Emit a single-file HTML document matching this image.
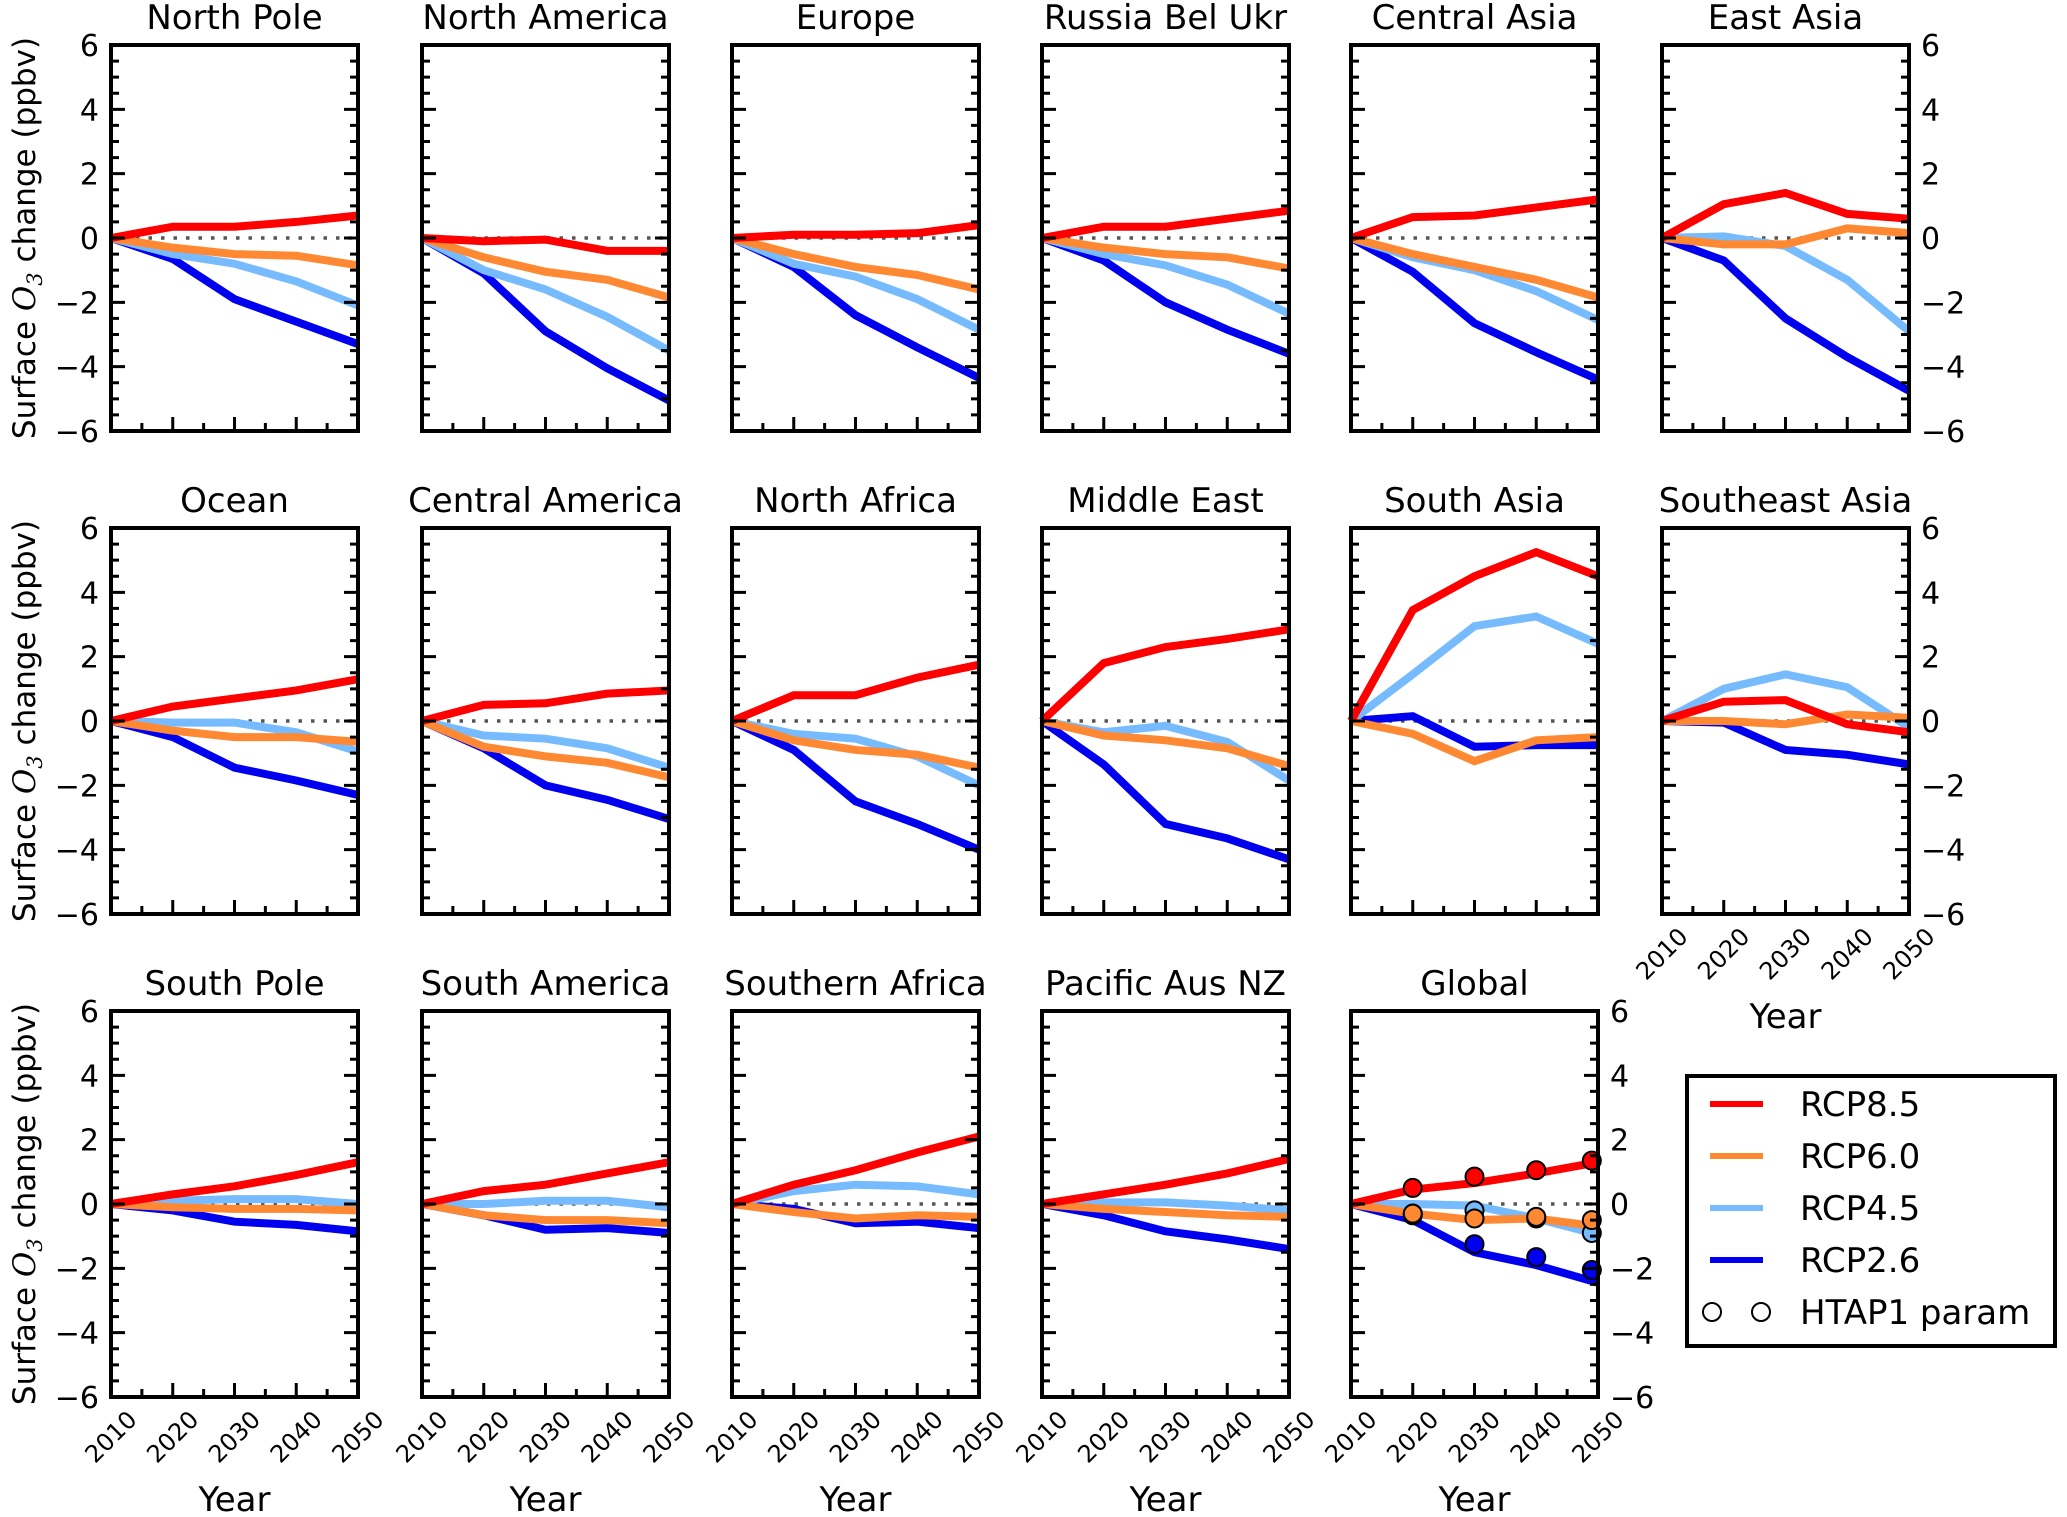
<!DOCTYPE html>
<html><head><meta charset="utf-8">
<style>
html,body{margin:0;padding:0;background:#fff;}
svg{display:block;font-family:"DejaVu Sans","Liberation Sans",sans-serif;}
</style></head>
<body>
<svg id="fig" width="2067" height="1517" viewBox="0 0 2067 1517" xmlns="http://www.w3.org/2000/svg"></svg>
<script>
const years = [2010, 2020, 2030, 2040, 2050];
const yTicks = [-6, -4, -2, 0, 2, 4, 6];
const scenarios = ["RCP8.5", "RCP6.0", "RCP4.5", "RCP2.6"];
const colors = ["#ff0000", "#ff8833", "#77bbff", "#0000ee"];
const regions = ["North Pole","North America","Europe","Russia Bel Ukr","Central Asia","East Asia",
  "Ocean","Central America","North Africa","Middle East","South Asia","Southeast Asia",
  "South Pole","South America","Southern Africa","Pacific Aus NZ","Global"];
const rcp85 = [
 [0,0.35,0.35,0.5,0.7],[0,-0.1,-0.05,-0.4,-0.4],[0,0.1,0.1,0.15,0.4],[0,0.35,0.35,0.6,0.85],[0,0.65,0.7,0.95,1.2],[0,1.05,1.4,0.75,0.6],
 [0,0.45,0.7,0.95,1.3],[0,0.5,0.55,0.85,0.95],[0,0.8,0.8,1.35,1.75],[0,1.8,2.3,2.55,2.85],[0,3.45,4.5,5.25,4.5],[0,0.6,0.65,-0.1,-0.35],
 [0,0.3,0.55,0.9,1.3],[0,0.4,0.6,0.95,1.3],[0,0.6,1.05,1.6,2.1],[0,0.3,0.6,0.95,1.4],[0,0.45,0.65,0.95,1.3]];
const rcp60 = [
 [0,-0.3,-0.5,-0.55,-0.85],[0,-0.6,-1.05,-1.3,-1.85],[0,-0.5,-0.9,-1.15,-1.6],[0,-0.3,-0.5,-0.6,-0.95],[0,-0.5,-0.9,-1.3,-1.85],[0,-0.2,-0.2,0.3,0.15],
 [0,-0.3,-0.5,-0.5,-0.65],[0,-0.8,-1.1,-1.3,-1.75],[0,-0.6,-0.9,-1.05,-1.45],[0,-0.45,-0.6,-0.85,-1.4],[0,-0.4,-1.25,-0.6,-0.5],[0,0,-0.1,0.2,0.1],
 [0,-0.1,-0.15,-0.15,-0.2],[0,-0.35,-0.5,-0.5,-0.6],[0,-0.25,-0.45,-0.35,-0.4],[0,-0.15,-0.25,-0.35,-0.4],[0,-0.3,-0.5,-0.45,-0.7]];
const rcp45 = [
 [0,-0.5,-0.8,-1.35,-2.1],[0,-1.0,-1.6,-2.45,-3.5],[0,-0.8,-1.2,-1.9,-2.85],[0,-0.5,-0.85,-1.45,-2.35],[0,-0.6,-1.0,-1.65,-2.55],[0,0.05,-0.25,-1.3,-2.9],
 [0,-0.05,-0.05,-0.35,-0.95],[0,-0.45,-0.55,-0.85,-1.45],[0,-0.4,-0.55,-1.1,-2.0],[0,-0.35,-0.15,-0.65,-1.85],[0,1.45,2.95,3.25,2.4],[0,1.0,1.45,1.05,-0.2],
 [0,0.1,0.15,0.15,0.0],[0,0.0,0.1,0.1,-0.1],[0,0.4,0.6,0.55,0.3],[0,0.05,0.05,-0.05,-0.2],[0,0.0,-0.05,-0.45,-0.95]];
const rcp26 = [
 [0,-0.65,-1.9,-2.6,-3.3],[0,-1.1,-2.9,-4.05,-5.05],[0,-0.9,-2.4,-3.4,-4.35],[0,-0.7,-2.0,-2.85,-3.6],[0,-1.05,-2.65,-3.55,-4.4],[0,-0.7,-2.5,-3.7,-4.75],
 [0,-0.5,-1.45,-1.85,-2.3],[0,-0.85,-2.0,-2.45,-3.05],[0,-0.9,-2.5,-3.2,-4.0],[0,-1.35,-3.2,-3.65,-4.3],[0,0.15,-0.8,-0.75,-0.75],[0,-0.05,-0.9,-1.05,-1.35],
 [0,-0.2,-0.55,-0.65,-0.85],[0,-0.35,-0.8,-0.75,-0.9],[0,-0.15,-0.6,-0.55,-0.75],[0,-0.35,-0.85,-1.1,-1.4],[0,-0.5,-1.5,-1.9,-2.45]];
const htapYears = [2020, 2030, 2040, 2049];
const htap85 = [0.5, 0.85, 1.05, 1.35];
const htap60 = [-0.3, -0.45, -0.4, -0.5];
const htap45 = [-0.3, -0.2, -0.45, -0.9];
const htap26 = [-0.35, -1.25, -1.65, -2.05];

const NS = "http://www.w3.org/2000/svg";
const svg = document.getElementById("fig");
function mk(tag, attrs, parent, text) {
  const e = document.createElementNS(NS, tag);
  for (const k in attrs) e.setAttribute(k, attrs[k]);
  if (text !== undefined) e.textContent = text;
  (parent || svg).appendChild(e);
  return e;
}
const colX = [111, 422, 732, 1042, 1351, 1662];
const rowY = [45, 528, 1011];
const W = 247, H = 386;
const allSeries = [rcp85, rcp60, rcp45, rcp26];

regions.forEach((name, i) => {
  const r = Math.floor(i / 6), c = i % 6;
  const x0 = colX[c], y0 = rowY[r];
  const sx = v => x0 + (v - 2010) / 40 * W;
  const sy = v => y0 + (6 - v) / 12 * H;
  const g = mk("g", {});
  
  
  const t = mk("text", {x: x0 + W / 2, y: y0 - 16, "text-anchor": "middle", "font-size": 34}, g, name);
  
  
  const z = mk("line", {x1: sx(2010), x2: sx(2050), y1: sy(0), y2: sy(0), stroke: "#555", "stroke-width": 3.5, "stroke-dasharray": "3.5,9"}, g);
  
  
  for (let s = 3; s >= 0; s--) {
    const vals = allSeries[s][i];
    const pts = vals.map((v, k) => sx(years[k]) + "," + sy(v)).join(" ");
    const pl = mk("polyline", {points: pts, fill: "none", stroke: colors[s], "stroke-width": 8, "stroke-linejoin": "miter"}, g);
    
    
  }
  if (name === "Global") {
    const hs = [htap26, htap45, htap60, htap85];
    const hc = [colors[3], colors[2], colors[1], colors[0]];
    hs.forEach((arr, s) => arr.forEach((v, k) => {
      const ci = mk("circle", {cx: sx(htapYears[k]), cy: sy(v), r: 9, fill: hc[s], stroke: "#000", "stroke-width": 2}, g);
      
      
    }));
  }
  let tk = "";
  for (let v = -6; v <= 6; v += 0.5) {
    const len = (v % 2 === 0) ? 14 : 8;
    const yy = sy(v);
    tk += `M${x0},${yy}h${len}M${x0 + W},${yy}h${-len}`;
  }
  for (let yr = 2010; yr <= 2050; yr += 5) {
    const len = (yr % 10 === 0) ? 14 : 8;
    tk += `M${sx(yr)},${y0 + H}v${-len}`;
  }
  const tp = mk("path", {d: tk, stroke: "#000", "stroke-width": 3, fill: "none"}, g);
  
  
  const fr = mk("rect", {x: x0, y: y0, width: W, height: H, fill: "none", stroke: "#000", "stroke-width": 4}, g);
  
  
  const leftLab = c === 0;
  const rightLab = (c === 5) || name === "Global";
  yTicks.forEach(v => {
    const lab = (v < 0 ? "\u2212" + (-v) : "" + v);
    if (leftLab) {
      const e = mk("text", {x: x0 - 12, y: sy(v) + 11, "text-anchor": "end", "font-size": 30}, g, lab);
      
      
    }
    if (rightLab) {
      const e = mk("text", {x: x0 + W + 12, y: sy(v) + 11, "text-anchor": "start", "font-size": 30}, g, lab);
      
      
    }
  });
  if (leftLab) {
    const cy = y0 + H / 2;
    const yl = mk("text", {x: 0, y: 0, "text-anchor": "middle", "font-size": 31, transform: `translate(35,${cy}) rotate(-90)`}, g);
    
    
    mk("tspan", {}, yl, "Surface ");
    mk("tspan", {"font-style": "italic", "font-family": "DejaVu Serif, serif"}, yl, "O");
    mk("tspan", {"font-size": 21, dy: 7, "font-style": "italic", "font-family": "DejaVu Serif, serif"}, yl, "3");
    mk("tspan", {dy: -7}, yl, " change (ppbv)");
  }
  const xLab = r === 2 || (r === 1 && c === 5);
  if (xLab) {
    years.forEach(yr => {
      const cx = sx(yr), cy = y0 + H + 40;
      const e = mk("text", {x: 0, y: 8, "text-anchor": "middle", "font-size": 24, transform: `translate(${cx},${cy}) rotate(-45)`}, g, "" + yr);
      
      
    });
    const yt = mk("text", {x: x0 + W / 2, y: y0 + H + 114, "text-anchor": "middle", "font-size": 34}, g, "Year");
    
    
  }
});

const lg = mk("g", {});


const lb = mk("rect", {x: 1687, y: 1076, width: 368, height: 270, fill: "#fff", stroke: "#000", "stroke-width": 4}, lg);


const rowsY = [1104, 1156, 1208, 1260];
scenarios.forEach((s, k) => {
  const ln = mk("line", {x1: 1710, x2: 1763, y1: rowsY[k], y2: rowsY[k], stroke: colors[k], "stroke-width": 6}, lg);
  
  
  const tx = mk("text", {x: 1800, y: rowsY[k] + 12, "font-size": 34}, lg, s);
  
  
});
[1712, 1761].forEach(cx => {
  const ci = mk("circle", {cx: cx, cy: 1312, r: 9, fill: "#fff", stroke: "#000", "stroke-width": 2}, lg);
  
  
});
const ht = mk("text", {x: 1800, y: 1324, "font-size": 34}, lg, "HTAP1 param");


</script>
</body></html>
